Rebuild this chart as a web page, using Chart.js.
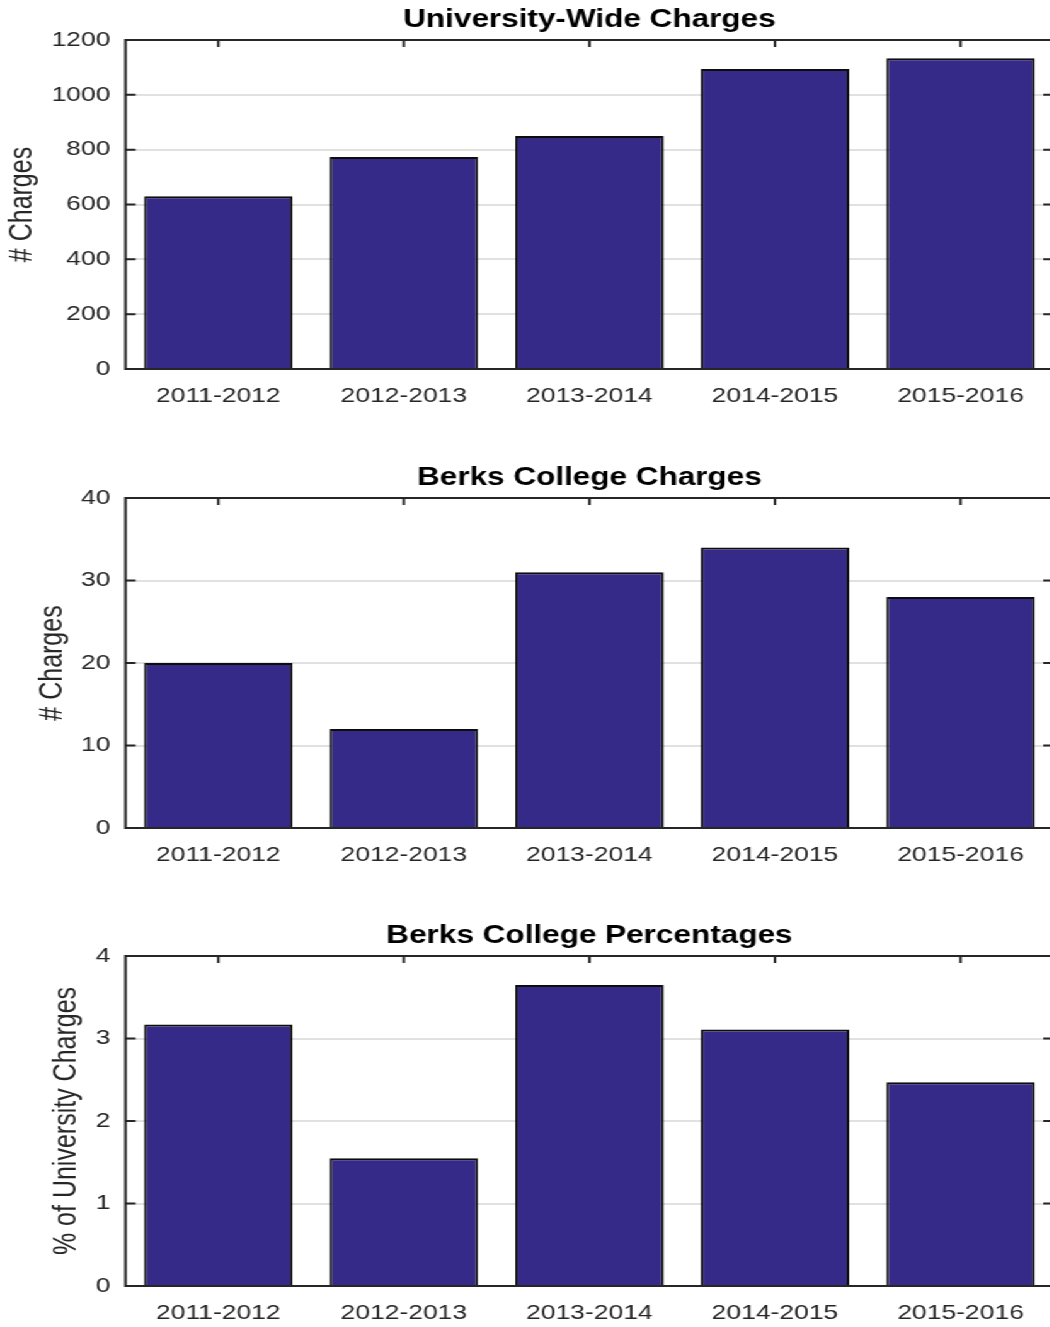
<!DOCTYPE html>
<html><head><meta charset="utf-8">
<script src="https://cdn.jsdelivr.net/npm/chart.js@4.4.1/dist/chart.umd.min.js"></script>
<style>
html,body{margin:0;padding:0;background:#fff;overflow:hidden;}
#clip{position:relative;width:1050px;height:1327px;overflow:hidden;background:#fff;}
#stretch{position:absolute;left:0;top:0;width:838px;transform:scaleX(1.26);transform-origin:0 0;}
canvas{display:block;}
</style></head><body>
<div id="clip"><div id="stretch">
<canvas id="c1" width="838" height="458"></canvas>
<canvas id="c2" width="838" height="458"></canvas>
<canvas id="c3" width="838" height="458"></canvas>
</div></div>
<script>
// ---- data ----
const years = ['2011-2012', '2012-2013', '2013-2014', '2014-2015', '2015-2016'];
const universityCharges = [630, 773, 850, 1094, 1133];
const berksCharges = [20, 12, 31, 34, 28];
const berksPercent = [3.17, 1.55, 3.65, 3.11, 2.47];
const universityTicks = [0, 200, 400, 600, 800, 1000, 1200];
const berksTicks = [0, 10, 20, 30, 40];
const percentTicks = [0, 1, 2, 3, 4];

const FONT = '"Liberation Sans", Arial, Helvetica, sans-serif';
const AX = '#262626';

const frame = {
  id: 'frame',
  afterDatasetsDraw(chart) {
    const {ctx, chartArea: a, scales: {x, y}} = chart;
    ctx.save();
    ctx.strokeStyle = AX;
    ctx.lineWidth = 2;
    ctx.beginPath();
    ctx.moveTo(a.left - 1, a.top); ctx.lineTo(a.right + 1, a.top);
    ctx.moveTo(a.left - 1, a.bottom); ctx.lineTo(a.right + 1, a.bottom);
    ctx.moveTo(a.left, a.top - 1); ctx.lineTo(a.left, a.bottom + 1);
    ctx.moveTo(a.right, a.top - 1); ctx.lineTo(a.right, a.bottom + 1);
    ctx.stroke();
    ctx.beginPath();
    y.ticks.forEach(t => {
      const py = y.getPixelForValue(t.value);
      ctx.moveTo(a.left, py); ctx.lineTo(a.left + 8, py);
      ctx.moveTo(a.right, py); ctx.lineTo(a.right - 8, py);
    });
    x.ticks.forEach((t, i) => {
      const px = x.getPixelForTick(i);
      ctx.moveTo(px, a.top); ctx.lineTo(px, a.top + 7);
    });
    ctx.stroke();
    ctx.restore();
  }
};

function makeChart(id, title, yLabel, values, ticks, labelPad, bottomPad) {
  const maxV = ticks[ticks.length - 1];
  return new Chart(document.getElementById(id), {
    type: 'bar',
    data: {
      labels: years,
      datasets: [{
        data: values,
        backgroundColor: '#352a87',
        borderColor: '#0d0d0d',
        borderWidth: 2,
        borderSkipped: 'start',
        barPercentage: 0.8,
        categoryPercentage: 1.0
      }]
    },
    options: {
      responsive: false,
      animation: false,
      devicePixelRatio: 1,
      layout: {padding: {top: 0, bottom: bottomPad, left: 0, right: 2}},
      plugins: {
        legend: {display: false},
        tooltip: {enabled: false},
        title: {
          display: true, text: title, fullSize: false, color: '#000',
          font: {family: FONT, size: 25, weight: 'bold'},
          padding: {top: 5, bottom: 5}
        }
      },
      scales: {
        x: {
          grid: {display: false, drawTicks: false},
          border: {display: false},
          ticks: {color: AX, font: {family: FONT, size: 21}, padding: 15, maxRotation: 0},
          afterFit(s) { s.height = 60; }
        },
        y: {
          min: 0, max: maxV,
          afterBuildTicks(s) { s.ticks = ticks.map(v => ({value: v})); },
          grid: {color: '#e1e1e1', lineWidth: 2, drawTicks: false},
          border: {display: false},
          ticks: {color: AX, font: {family: FONT, size: 21}, padding: 12, callback: v => String(v)},
          title: {display: true, text: yLabel, color: AX, font: {family: FONT, size: 25}, padding: {top: labelPad, bottom: 0}},
          afterFit(s) { s.width = 99.6; }
        }
      }
    },
    plugins: [frame]
  });
}

makeChart('c1', 'University-Wide Charges', '# Charges', universityCharges, universityTicks, 3, 29);
makeChart('c2', 'Berks College Charges', '# Charges', berksCharges, berksTicks, 26.7, 28);
makeChart('c3', 'Berks College Percentages', '% of University Charges', berksPercent, percentTicks, 37.8, 28);
</script>
</body></html>
